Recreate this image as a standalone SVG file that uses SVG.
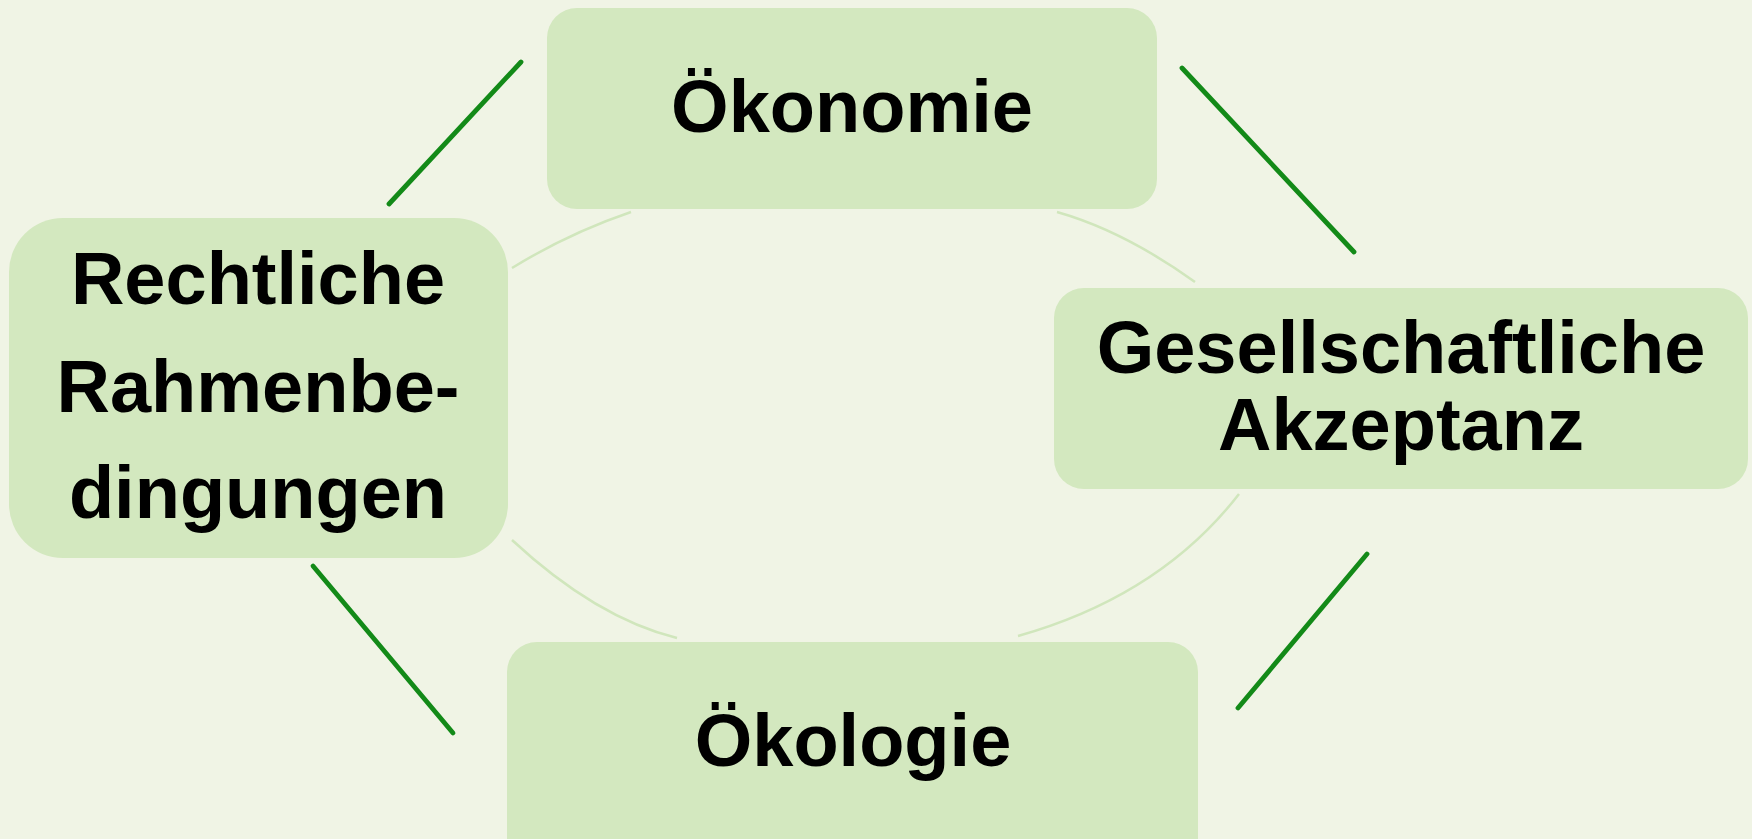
<svg xmlns="http://www.w3.org/2000/svg" width="1752" height="839" viewBox="0 0 1752 839">
<style>
.box{fill:#d3e8bf;}
.lbl{font-family:"Liberation Sans",Arial,sans-serif;font-weight:bold;font-size:74px;fill:#000;text-anchor:middle;}
.arc{fill:none;stroke:#d0e6bc;stroke-width:2.5;}
.link{stroke:#138a18;stroke-width:4.8;stroke-linecap:round;}
</style>
<rect x="0" y="0" width="1752" height="839" fill="#f0f4e5"/>
<g id="arcs">
<path class="arc" d="M512,268 Q569,233 631,212"/>
<path class="arc" d="M1057,212 Q1124,231 1195,282"/>
<path class="arc" d="M1239,494 Q1160,596 1018,636"/>
<path class="arc" d="M512,540 Q596,618 677,638"/>
</g>
<g id="connectors">
<line class="link" x1="389" y1="204" x2="521" y2="62"/>
<line class="link" x1="1182" y1="68" x2="1354" y2="252"/>
<line class="link" x1="1367" y1="554" x2="1238" y2="708"/>
<line class="link" x1="313" y1="566" x2="453" y2="733"/>
</g>
<g id="oekonomie">
<rect class="box" x="547" y="8" width="610" height="201" rx="30" ry="30"/>
<text class="lbl" x="852" y="132">Ökonomie</text>
</g>
<g id="rechtliche">
<rect class="box" x="9" y="218" width="499" height="340" rx="54" ry="54"/>
<text class="lbl" x="258" y="304">Rechtliche</text>
<text class="lbl" x="258" y="412">Rahmenbe-</text>
<text class="lbl" x="258" y="518">dingungen</text>
</g>
<g id="gesellschaft">
<rect class="box" x="1054" y="288" width="694" height="201" rx="30" ry="30"/>
<text class="lbl" x="1401" y="373">Gesellschaftliche</text>
<text class="lbl" x="1401" y="450">Akzeptanz</text>
</g>
<g id="oekologie">
<rect class="box" x="507" y="642" width="691" height="230" rx="30" ry="30"/>
<text class="lbl" x="853" y="766">Ökologie</text>
</g>
</svg>
